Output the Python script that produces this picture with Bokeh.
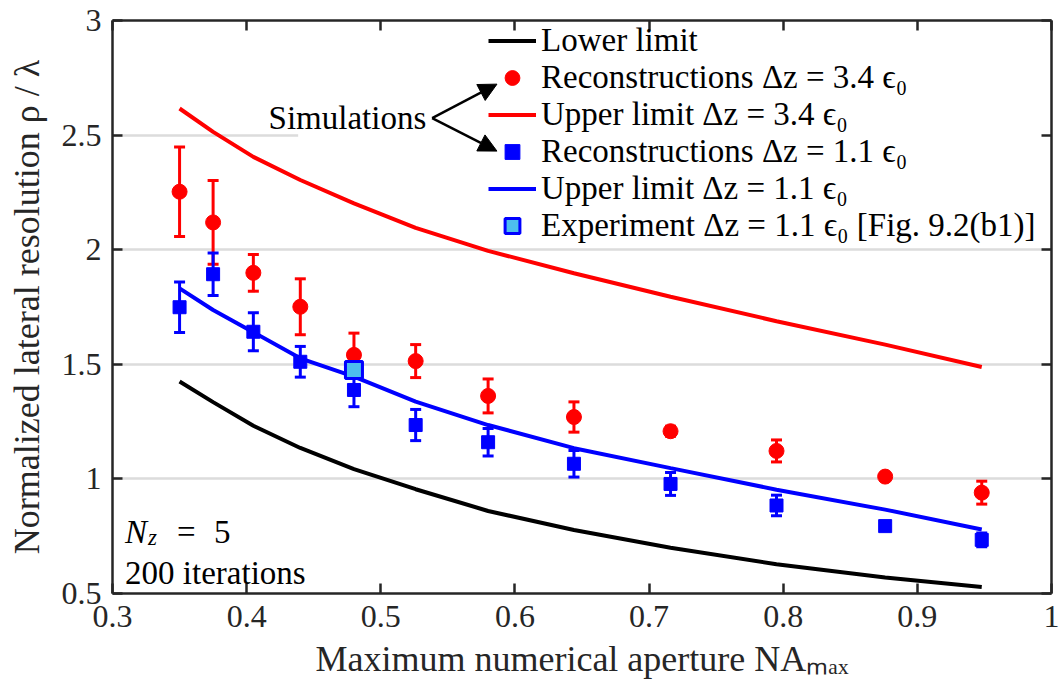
from bokeh.plotting import figure
from bokeh.models import (Legend, LegendItem, LinearAxis, FixedTicker, CustomJSTickFormatter,
                          Arrow, NormalHead, Label, BoxAnnotation, Range1d)
from bokeh.embed import file_html
from bokeh.resources import INLINE

# ---------------- data ----------------
na = [0.35, 0.375, 0.405, 0.44, 0.48, 0.526, 0.58, 0.644, 0.716, 0.795, 0.876, 0.948]
lower_limit = [1.425, 1.335, 1.232, 1.135, 1.043, 0.955, 0.860, 0.777, 0.700, 0.628, 0.570, 0.528]
upper_34 = [2.616, 2.514, 2.405, 2.304, 2.202, 2.095, 1.995, 1.897, 1.795, 1.688, 1.586, 1.488]
upper_11 = [1.831, 1.737, 1.640, 1.526, 1.446, 1.337, 1.235, 1.134, 1.047, 0.953, 0.866, 0.779]
rec_34 = [2.253, 2.119, 1.899, 1.751, 1.541, 1.514, 1.362, 1.270, 1.208, 1.122, 1.010, 0.940]
rec_34_err = [0.195, 0.183, 0.080, 0.122, 0.095, 0.072, 0.074, 0.066, 0.022, 0.048, 0.015, 0.050]
rec_11 = [1.749, 1.893, 1.642, 1.511, 1.388, 1.235, 1.160, 1.066, 0.978, 0.884, 0.794, 0.734]
rec_11_err = [0.110, 0.093, 0.083, 0.067, 0.073, 0.068, 0.060, 0.058, 0.050, 0.045, 0.010, 0.030]
exp_na = [0.48]
exp_res = [1.475]

x_ticks = [0.3, 0.4, 0.5, 0.6, 0.7, 0.8, 0.9, 1.0]
y_ticks = [0.5, 1.0, 1.5, 2.0, 2.5, 3.0]

labels = ["Lower limit",
          "Reconstructions \u0394z = 3.4 \u03f5\u2080",
          "Upper limit \u0394z = 3.4 \u03f5\u2080",
          "Reconstructions \u0394z = 1.1 \u03f5\u2080",
          "Upper limit \u0394z = 1.1 \u03f5\u2080",
          "Experiment \u0394z = 1.1 \u03f5\u2080 [Fig. 9.2(b1)]"]

# ---------------- styling ----------------
FONT = "Liberation Serif"
AX = "#262626"
RED = "#ff0000"
BLUE = "#0000ff"
TICK_FS = "32px"
LAB_FS = "36px"
TXT_FS = "33px"

p = figure(width=1059, height=691, x_range=Range1d(0.3, 1.0), y_range=Range1d(0.5, 3.0),
           output_backend="svg", toolbar_location=None,
           min_border_left=112, min_border_right=8, min_border_top=20, min_border_bottom=98)
p.outline_line_color = None
p.background_fill_color = "white"
p.border_fill_color = "white"

p.xgrid.visible = False
p.ygrid.ticker = FixedTicker(ticks=y_ticks)
p.ygrid.grid_line_color = "#dcdcdc"
p.ygrid.grid_line_width = 2.5

fmt = CustomJSTickFormatter(code="return String(Math.round(tick*10)/10)")
blank = CustomJSTickFormatter(code="return ''")


def style_axis(ax, ticks, formatter, show_labels=True):
    ax.ticker = FixedTicker(ticks=ticks)
    ax.formatter = formatter
    ax.axis_line_color = AX
    ax.axis_line_width = 2.5
    ax.major_tick_line_color = AX
    ax.major_tick_line_width = 2.5
    ax.major_tick_in = 10
    ax.major_tick_out = 0
    ax.minor_tick_line_color = None
    ax.major_label_text_font = FONT
    ax.major_label_text_color = AX
    ax.axis_label_text_font = FONT
    ax.axis_label_text_font_style = "normal"
    ax.axis_label_text_color = AX
    ax.axis_label_text_font_size = LAB_FS
    if show_labels:
        ax.major_label_text_font_size = TICK_FS
    else:
        ax.major_label_text_font_size = "0px"
        ax.major_label_standoff = 0
        ax.axis_label_standoff = 0


style_axis(p.xaxis[0], x_ticks, fmt)
style_axis(p.yaxis[0], y_ticks, fmt)
p.xaxis[0].axis_label = "Maximum numerical aperture NA\u2098\u2090\u2093"
p.xaxis[0].major_label_standoff = 12
p.xaxis[0].axis_label_standoff = 9
p.yaxis[0].axis_label = "Normalized lateral resolution \u03c1 / \u03bb"
p.yaxis[0].major_label_standoff = 11
p.yaxis[0].axis_label_standoff = 12

top_ax = LinearAxis()
style_axis(top_ax, x_ticks, blank, show_labels=False)
p.add_layout(top_ax, "above")
right_ax = LinearAxis()
style_axis(right_ax, y_ticks, blank, show_labels=False)
p.add_layout(right_ax, "right")

# white legend background that hides the grid line behind the legend
p.add_layout(BoxAnnotation(left=0.4384, right=1.0, bottom=2.02, top=3.0,
                           fill_color="white", fill_alpha=1.0, line_color=None,
                           level="underlay"))

# ---------------- glyphs ----------------
r_low = p.line(na, lower_limit, line_color="black", line_width=4)

hi34 = [v + e for v, e in zip(rec_34, rec_34_err)]
lo34 = [v - e for v, e in zip(rec_34, rec_34_err)]
p.segment(x0=na, y0=lo34, x1=na, y1=hi34, line_color=RED, line_width=3)
p.scatter(na, hi34, marker="dash", size=11, line_color=RED, line_width=3)
p.scatter(na, lo34, marker="dash", size=11, line_color=RED, line_width=3)
r_rec34 = p.scatter(na, rec_34, marker="circle", size=15, fill_color=RED, line_color=RED)

r_up34 = p.line(na, upper_34, line_color=RED, line_width=4)

hi11 = [v + e for v, e in zip(rec_11, rec_11_err)]
lo11 = [v - e for v, e in zip(rec_11, rec_11_err)]
p.segment(x0=na, y0=lo11, x1=na, y1=hi11, line_color=BLUE, line_width=3)
p.scatter(na, hi11, marker="dash", size=11, line_color=BLUE, line_width=3)
p.scatter(na, lo11, marker="dash", size=11, line_color=BLUE, line_width=3)
r_rec11 = p.scatter(na, rec_11, marker="square", size=13, fill_color=BLUE, line_color=BLUE)

r_up11 = p.line(na, upper_11, line_color=BLUE, line_width=4)

r_exp = p.scatter(exp_na, exp_res, marker="square", size=17, fill_color="#4dbeee",
                  line_color=BLUE, line_width=3)

# ---------------- legend ----------------
items = [LegendItem(label=lbl, renderers=[r]) for lbl, r in
         zip(labels, [r_low, r_rec34, r_up34, r_rec11, r_up11, r_exp])]
legend = Legend(items=items, location=(376, 349),
                label_text_font=FONT, label_text_font_size=TXT_FS, label_text_color="black",
                glyph_width=48, glyph_height=37, label_height=37, label_standoff=5,
                spacing=0, padding=0, margin=0,
                background_fill_alpha=0, border_line_color=None)
p.add_layout(legend)

# ---------------- annotations ----------------
p.add_layout(Label(x=0.5339, y=2.5741, text="Simulations", text_align="right",
                   text_baseline="middle", text_font=FONT, text_font_size=TXT_FS,
                   text_color="black"))
for xe, ye in [(0.5866, 2.7224), (0.5866, 2.4302)]:
    p.add_layout(Arrow(end=NormalHead(size=18, fill_color="black", line_color="black"),
                       x_start=0.5383, y_start=2.5741, x_end=xe, y_end=ye,
                       line_color="black", line_width=2.5))

nx, ny = 0.3094, 0.770
p.add_layout(Label(x=nx, y=ny, text="N", text_font=FONT, text_font_style="italic",
                   text_font_size=TXT_FS, text_baseline="alphabetic", text_color="black"))
p.add_layout(Label(x=nx, y=ny, x_offset=23, y_offset=-6, text="z", text_font=FONT,
                   text_font_style="italic", text_font_size="23px",
                   text_baseline="alphabetic", text_color="black"))
p.add_layout(Label(x=nx, y=ny, x_offset=52, text="=", text_font=FONT,
                   text_font_size=TXT_FS, text_baseline="alphabetic", text_color="black"))
p.add_layout(Label(x=nx, y=ny, x_offset=89, text="5", text_font=FONT,
                   text_font_size=TXT_FS, text_baseline="alphabetic", text_color="black"))
p.add_layout(Label(x=nx, y=0.590, text="200 iterations", text_font=FONT,
                   text_font_size=TXT_FS, text_baseline="alphabetic", text_color="black"))

open("out.html", "w").write(file_html(p, INLINE))
